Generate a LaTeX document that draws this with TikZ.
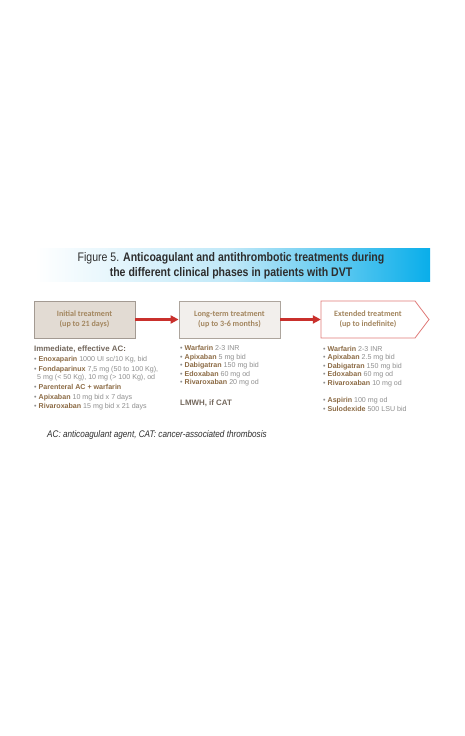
\documentclass[tikz,border=0pt]{standalone}
\usepackage{fontspec}
\setmainfont{Liberation Sans}
\newfontfamily\narrowfont[FakeStretch=0.85]{Liberation Sans}
\newfontfamily\carlfont{Carlito}
\usetikzlibrary{arrows.meta}
\definecolor{labelbrown}{HTML}{A3865F}
\definecolor{boxonefill}{HTML}{E2DBD3}
\definecolor{boxoneline}{HTML}{A39A92}
\definecolor{boxtwofill}{HTML}{F2EFEC}
\definecolor{boxtwoline}{HTML}{ADA59D}
\definecolor{boxthreeline}{HTML}{E07A78}
\definecolor{arrowred}{HTML}{C9302C}
\definecolor{drugbrown}{HTML}{8C6B45}
\definecolor{reggrey}{HTML}{8E8E8E}
\definecolor{headgrey}{HTML}{74685D}
\definecolor{bannerblue}{HTML}{09AEEA}
\definecolor{bannermid}{HTML}{BFE8F8}
\definecolor{titlegrey}{HTML}{2E2E2E}
\begin{document}
\begin{tikzpicture}[x=1pt,y=-1pt,
  phasebox/.style={minimum width=101pt,minimum height=37pt,inner sep=0pt,
    font=\carlfont\bfseries\fontsize{8.1}{9.8}\selectfont,text=labelbrown,align=center},
  flow/.style={draw=arrowred,line width=2.3pt,-{Triangle[length=8pt,width=8pt]}},
  item/.style={anchor=base west,inner sep=0pt,font=\fontsize{7.1}{8}\selectfont,text=reggrey},
  headtext/.style={anchor=base west,inner sep=0pt,font=\bfseries\fontsize{7.9}{9}\selectfont,text=headgrey}]
\useasboundingbox (0,0) rectangle (465,736);
\fill[white] (0,0) rectangle (465,736);
% banner
\shade[left color=white,right color=bannermid] (35,248) rectangle (232,281);
\shade[left color=bannermid,right color=bannerblue] (232,248) rectangle (430,281);
\node[inner sep=0pt,align=center,text=titlegrey,font=\narrowfont\fontsize{12.4}{15}\selectfont] (title) at (231,265.5)
  {Figure 5. \textbf{Anticoagulant and antithrombotic treatments during}\\\textbf{the different clinical phases in patients with DVT}};
% boxes
\node[phasebox,fill=boxonefill,draw=boxoneline,line width=0.8pt] (b1) at (84.5,319.5) {Initial treatment\\(up to 21 days)};
\node[phasebox,fill=boxtwofill,draw=boxtwoline,line width=0.8pt] (b2) at (229.5,319.5) {Long-term treatment\\(up to 3-6 months)};
\draw[boxthreeline,line width=0.8pt,fill=white] (321,301) -- (415,301) -- (429,319.5) -- (415,338) -- (321,338) -- cycle;
\node[phasebox,minimum width=94pt] (b3) at (368,319.5) {Extended treatment\\(up to indefinite)};
\draw[flow] (b1.east) -- (b2.west);
\draw[flow] (b2.east) -- (b3.west);
% left column
\node[headtext] (l0) at (34,351) {Immediate, effective AC:};
\node[item] (l1) at (34,361) {• \textbf{\color{drugbrown}Enoxaparin} 1000 UI sc/10 Kg, bid};
\node[item] (l2) at (34,371) {• \textbf{\color{drugbrown}Fondaparinux} 7,5 mg (50 to 100 Kg),};
\node[item] (l3) at (37,379) {5 mg (< 50 Kg), 10 mg (> 100 Kg), od};
\node[item] (l4) at (34,389.5) {• \textbf{\color{drugbrown}Parenteral AC + warfarin}};
\node[item] (l5) at (34,399.5) {• \textbf{\color{drugbrown}Apixaban} 10 mg bid x 7 days};
\node[item] (l6) at (34,408.5) {• \textbf{\color{drugbrown}Rivaroxaban} 15 mg bid x 21 days};
% middle column
\node[item] (m1) at (180,350.5) {• \textbf{\color{drugbrown}Warfarin} 2-3 INR};
\node[item] (m2) at (180,359) {• \textbf{\color{drugbrown}Apixaban} 5 mg bid};
\node[item] (m3) at (180,367.5) {• \textbf{\color{drugbrown}Dabigatran} 150 mg bid};
\node[item] (m4) at (180,376) {• \textbf{\color{drugbrown}Edoxaban} 60 mg od};
\node[item] (m5) at (180,384.5) {• \textbf{\color{drugbrown}Rivaroxaban} 20 mg od};
\node[headtext] (m6) at (180,405) {LMWH, if CAT};
% right column
\node[item] (r1) at (323,351) {• \textbf{\color{drugbrown}Warfarin} 2-3 INR};
\node[item] (r2) at (323,359.5) {• \textbf{\color{drugbrown}Apixaban} 2.5 mg bid};
\node[item] (r3) at (323,368) {• \textbf{\color{drugbrown}Dabigatran} 150 mg bid};
\node[item] (r4) at (323,376.5) {• \textbf{\color{drugbrown}Edoxaban} 60 mg od};
\node[item] (r5) at (323,385) {• \textbf{\color{drugbrown}Rivaroxaban} 10 mg od};
\node[item] (r6) at (323,402) {• \textbf{\color{drugbrown}Aspirin} 100 mg od};
\node[item] (r7) at (323,411) {• \textbf{\color{drugbrown}Sulodexide} 500 LSU bid};
% caption
\node[anchor=base west,inner sep=0pt,text=titlegrey,font=\narrowfont\itshape\fontsize{9.6}{11}\selectfont] (cap) at (47,437) {AC: anticoagulant agent, CAT: cancer-associated thrombosis};
\end{tikzpicture}
\end{document}
